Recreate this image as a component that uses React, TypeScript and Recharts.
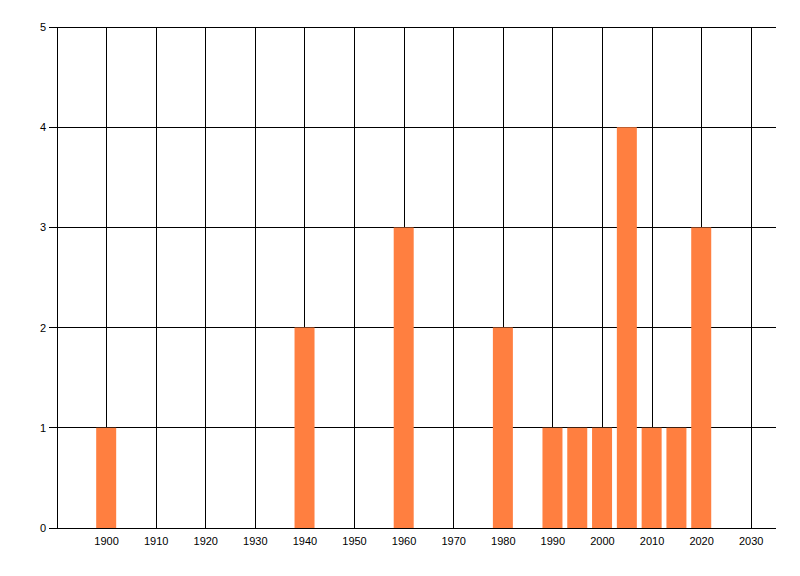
import React from "react";
import { BarChart, Bar, XAxis, YAxis, CartesianGrid } from "recharts";

const years = [1900, 1940, 1960, 1980, 1990, 1995, 2000, 2005, 2010, 2015, 2020];
const counts = [1, 2, 3, 2, 1, 1, 1, 4, 1, 1, 3];
const xTicks = [1900, 1910, 1920, 1930, 1940, 1950, 1960, 1970, 1980, 1990, 2000, 2010, 2020, 2030];
const yTicks = [0, 1, 2, 3, 4, 5];
const xDomain = [1890, 2035];

const data = years.map((year, i) => ({ year, count: counts[i] }));

const tickStyle = { fontSize: 11, fill: "#000", fontFamily: "'Liberation Sans', Arial, sans-serif" };

// vertical grid only at the decade ticks (no line on the right edge)
const verticalLines = (props: any) => {
  const { xAxis, offset } = props;
  if (xAxis && typeof xAxis.scale === "function") {
    return xTicks.map((t) => xAxis.scale(t));
  }
  return xTicks.map(
    (t) => offset.left + ((t - xDomain[0]) / (xDomain[1] - xDomain[0])) * offset.width
  );
};

const App = () => {
  return (
    <div style={{ position: "absolute", left: 0, top: 0, background: "#fff" }}>
      <BarChart
        width={800}
        height={576}
        data={data}
        margin={{ top: 27, right: 24, left: 0, bottom: 0 }}
      >
        <CartesianGrid
          stroke="#000"
          strokeWidth={1}
          shapeRendering="crispEdges"
          verticalCoordinatesGenerator={verticalLines}
        />
        <XAxis
          dataKey="year"
          type="number"
          domain={xDomain}
          ticks={xTicks}
          interval={0}
          height={48}
          tickLine={false}
          axisLine={{ stroke: "#000", shapeRendering: "crispEdges" }}
          tickSize={6}
          tickMargin={3}
          tick={tickStyle}
          allowDataOverflow
        />
        <YAxis
          type="number"
          domain={[0, 5]}
          ticks={yTicks}
          interval={0}
          width={57}
          tickSize={8}
          tickMargin={3}
          tickLine={{ stroke: "#000", shapeRendering: "crispEdges" }}
          axisLine={{ stroke: "#000", shapeRendering: "crispEdges" }}
          tick={tickStyle}
        />
        <Bar dataKey="count" fill="#FF7F40" barSize={20} isAnimationActive={false} />
      </BarChart>
    </div>
  );
};

export default App;
